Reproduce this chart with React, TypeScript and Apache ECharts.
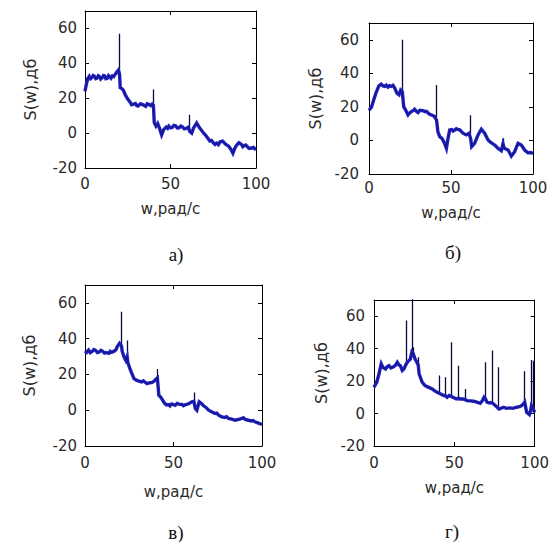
import React, { useEffect, useRef } from "react";
import * as echarts from "echarts";

// ---- Data ----
const xTicks = [0, 50, 100];
const yTicks = [-20, 0, 20, 40, 60];
const panelCaptions = ["а)", "б)", "в)", "г)"];
const xName = "w,рад/с";
const yName = "S(w),дб";

const spectrumA: [number, number][] = [
  [0, 24], [0.8, 28], [1.5, 31], [2.5, 32.5], [3.2, 31.2], [4, 31.8], [4.8, 33], [5.5, 32.6], [6.3, 31.2], [7, 31.5],
  [7.8, 32.9], [8.5, 32.4], [9.2, 31], [10, 31.6], [10.8, 33], [11.5, 32.8], [12.2, 31.2], [13, 31.4], [13.8, 32.9],
  [14.5, 32.2], [15.2, 31.5], [16, 32.8], [16.8, 32.4], [17.5, 33.5], [18.5, 34.8], [19.5, 36], [20.2, 34],
  [20.6, 26], [21.5, 25.5], [22.5, 24.5], [23.5, 22], [25, 19.5], [26.5, 17.5], [27.3, 16.3], [28, 16.5], [29.5, 17],
  [30.3, 15.8], [31, 15.5], [32.5, 16.8], [34, 16.2], [35.5, 15.3], [36.3, 16.8], [37, 16.6], [38.5, 15.8], [39.3, 16.6], [40, 16], [40.5, 6],
  [41.5, 4], [42.5, 5.5], [43.5, 3], [44.8, -1], [46, 2], [47.5, 3.5], [48.3, 2.8], [49, 4], [50, 3], [51, 3.2], [52, 4.4], [53, 4.2],
  [54, 2.9], [55, 3], [56, 4], [57, 3.5], [58, 2.5], [59, 2.6], [60.5, 3.5], [61.2, 1], [62.4, 0], [63.5, 3], [65.3, 5.8], [67, 3],
  [69, 0.5], [71, -1.8], [73, -4.5], [74, -4.2], [75, -5.5], [76, -6.5], [77, -5.8], [78, -6.6], [79, -5], [80.5, -4.6], [82, -6.2],
  [84, -7.5], [85.5, -9.5], [86.5, -11.5], [87.7, -8.5], [89, -6.5], [90, -5.5], [91.5, -6.5], [92.3, -7.8],
  [93, -7.2], [94, -6.8], [95, -7.8], [96, -8.8], [97, -8.6], [98.5, -8.2], [99.3, -9], [100, -8.5],
];
const spikeXA = [20, 40.2, 60.8];
const spikeBaseA = [35, 17, 3];
const spikePeakA = [57, 25, 10.5];

const spectrumB: [number, number][] = [
  [0, 18], [1.5, 19.8], [2.8, 24], [4.5, 29], [6.1, 32.7], [7.5, 33.5], [8.5, 32.5], [9.6, 32.2],
  [10.5, 33], [11.6, 31.8], [12.5, 32.6], [13.6, 32.2], [14.6, 32.8], [15.7, 31.2], [17, 28.2],
  [18.3, 27.2], [19.3, 30], [20.3, 29], [21.2, 20], [22.4, 18], [23.8, 15.2], [24.8, 16.4], [25.8, 17.2],
  [27, 17.8], [27.8, 18.6], [29, 17.2], [29.9, 16.6], [31, 18], [32.9, 17.8], [34, 17.2], [35, 17.4],
  [36, 16.4], [37, 15.6], [38.5, 15], [40, 14.2], [41.2, 12], [42, 5.3], [43.1, 2.3], [44.5, 1.3],
  [46.1, -1.8], [47.2, -4.7], [48.2, 1.3], [49.2, 6.3], [50.5, 6.5], [51.3, 5.6], [52.2, 6.2], [53.2, 7], [54, 6.6], [55.3, 6.3],
  [57.3, 4.3], [59.3, 3.3], [61, 4.3], [62, 1], [62.6, -3.7], [64.4, -1.7], [66.5, 3.3], [68.5, 6.7],
  [70.5, 4.3], [72.6, 0.3], [74, -1], [75.6, -2.1], [77, -3], [78.7, -4.7], [80.7, -6.1], [81.7, -2],
  [82.5, -4.7], [84.8, -5.7], [86.8, -9.3], [88.8, -6.7], [90.9, -1.7], [92.9, -2.7], [94.9, -5.7],
  [96.9, -7.3], [98.5, -7.2], [100, -7.7],
];
const spikeXB = [20.4, 41, 61.8, 81.7];
const spikeBaseB = [29, 14, 4, -5];
const spikePeakB = [60, 33, 15, 1.3];

const spectrumC: [number, number][] = [
  [0, 33.2], [1, 32.4], [2, 33.6], [3, 32.2], [4, 32.8], [5, 33.9], [6, 33.4], [7, 32.3], [8, 32.6], [9, 33.5], [10, 32.9],
  [11, 31.9], [12, 32.2], [13.5, 31.8], [14.2, 32.9], [15, 32.4],
  [16.5, 33], [17.5, 33.8], [18.2, 35.5], [19.5, 37.4], [20.6, 36], [21, 33], [22, 29.9], [23, 28],
  [23.8, 30], [24.3, 26.2], [25.7, 22.4], [27.6, 17.8], [29, 16.8], [30.4, 16.3], [32, 15.8], [33, 16.4], [34.1, 15.5],
  [35, 14.9], [36, 15.2], [37.9, 15.5], [39, 16.2], [40.2, 17.4], [40.9, 18], [41.7, 8.4], [42.6, 7.5], [43.5, 6.2],
  [45, 3.8], [46, 3], [47.3, 3.2], [48, 2.4], [49, 3.5], [50, 3.1], [51, 2.8], [52, 3.8], [53, 3.4], [54.8, 3.2], [55.6, 2.5], [56.5, 3], [58.5, 3.6],
  [60.4, 4.7], [61.5, 5], [62.3, 1], [63.2, 0], [64.5, 4.7], [65.5, 4], [67, 2.5], [68.5, 1.4], [69.8, 0],
  [71.5, -0.8], [73.5, -1.8], [74.5, -1.6], [75.5, -2.8], [77.3, -3.7], [79, -4], [80, -3.6], [81, -4.6], [83, -5], [84.8, -5.6],
  [86.5, -5.2], [88.6, -4.6], [89.5, -4.2], [90.5, -5.2], [92.3, -5.6], [94, -6], [95, -5.8], [96, -6.5], [98, -7.2], [100, -8],
];
const spikeXC = [20.6, 23.8, 40.9, 61.5];
const spikeBaseC = [37, 30, 18, 5];
const spikePeakC = [55, 39, 23, 9.9];

const spectrumD: [number, number][] = [
  [0, 16.2], [1.7, 19.3], [3.1, 24.4], [4.5, 30.6], [5.5, 28.5], [7.2, 27.5], [8.3, 29], [9.3, 29.5],
  [10.5, 28.1], [12.4, 28.9], [13.5, 30], [14.5, 31.6], [15.5, 30], [16.4, 29.5], [17.6, 26.5],
  [18.6, 27.5], [19.8, 30], [20.7, 31.6], [21.7, 32.6], [22.6, 33.5], [23.6, 38], [24.4, 37],
  [25.5, 33.7], [26.5, 32], [27.5, 30], [28.1, 24.4], [30, 19.3], [31.5, 17.5], [33, 16.6], [34.5, 16],
  [36.2, 15.2], [37.8, 14], [39.3, 13.1], [40.5, 12.5], [41.5, 12.1], [43.4, 11.1], [44.4, 11],
  [45.5, 10], [46.8, 11.1], [48.1, 10.5], [49.2, 10], [51.2, 9], [52.7, 9.5], [53.7, 9], [55.5, 9],
  [56.6, 8.6], [57.9, 8], [60, 7.8], [62, 7.6], [64, 7], [66.1, 6.3], [67.5, 8], [68.5, 10], [69.4, 9],
  [70.3, 7], [72, 6.5], [73.3, 6.8], [74.4, 5.9], [76, 4.5], [77.1, 3.5], [77.9, 2.8], [80.6, 3.9],
  [82.5, 3.2], [84.7, 3.5], [86.5, 3.2], [88.8, 3.9], [90.5, 4.2], [91.9, 4.9], [93, 6], [93.8, 7],
  [95, 0.8], [96.7, -0.6], [97.5, 2], [98, 5], [98.8, 4], [99.4, 2], [100, 0.8],
];
const spikeXD = [19.8, 23.6, 24.4, 27.5, 40.5, 44.4, 48.1, 52.7, 56.6, 69.4, 73.3, 77.1, 93.8, 98, 98.8];
const spikeBaseD = [30, 36, 37, 30, 12.5, 11, 10.5, 9.5, 8.6, 9, 6.8, 3.5, 7, 5, 4];
const spikePeakD = [57.3, 72, 40.8, 34.7, 23.4, 22.4, 43.9, 29.5, 15.2, 31.6, 38.8, 28.5, 26.1, 33, 32.6];

const spectra = [spectrumA, spectrumB, spectrumC, spectrumD];
const spikeXs = [spikeXA, spikeXB, spikeXC, spikeXD];
const spikeBases = [spikeBaseA, spikeBaseB, spikeBaseC, spikeBaseD];
const spikePeaks = [spikePeakA, spikePeakB, spikePeakC, spikePeakD];

// ---- Layout ----
const grids = [
  { left: 85, top: 11, width: 171, height: 157 },
  { left: 369, top: 23, width: 164, height: 151 },
  { left: 85, top: 285, width: 177, height: 161 },
  { left: 374, top: 300, width: 162, height: 146 },
];
const xLabelMargin = [8, 6, 9, 9];
const yLabelMargin = [8, 10, 8, 9];
const xNameGap = [33, 31, 38, 34];
const yNameGap = [47, 46, 48, 45];
const captionPos = [
  [176, 254],
  [453, 252],
  [176, 532],
  [452, 531],
];

const AXIS_FONT = "'DejaVu Sans', 'Liberation Sans', sans-serif";
const TEXT_COLOR = "#2a2a2a";

export default function App() {
  const ref = useRef<HTMLDivElement>(null);
  useEffect(() => {
    if (!ref.current) return;
    const chart = echarts.init(ref.current, undefined, { renderer: "svg" });
    const xAxes: any[] = [];
    const yAxes: any[] = [];
    const series: any[] = [];
    grids.forEach((g, i) => {
      const tick = { show: true, inside: true, length: 4, lineStyle: { color: "#000", width: 1 } };
      const line = { show: true, onZero: false, lineStyle: { color: "#000", width: 1 } };
      xAxes.push({
        type: "value", gridIndex: i, position: "bottom", min: xTicks[0], max: xTicks[xTicks.length - 1],
        interval: xTicks[1] - xTicks[0], axisLine: line, axisTick: tick, splitLine: { show: false },
        axisLabel: { fontSize: 15, color: TEXT_COLOR, fontFamily: AXIS_FONT, margin: xLabelMargin[i] },
        name: xName, nameLocation: "middle", nameGap: xNameGap[i],
        nameTextStyle: { fontSize: 15, color: TEXT_COLOR, fontFamily: AXIS_FONT },
      });
      xAxes.push({
        type: "value", gridIndex: i, position: "top", min: xTicks[0], max: xTicks[xTicks.length - 1],
        interval: xTicks[1] - xTicks[0], axisLine: line, axisTick: tick, splitLine: { show: false },
        axisLabel: { show: false },
      });
      yAxes.push({
        type: "value", gridIndex: i, position: "left", min: yTicks[0], max: 70,
        interval: yTicks[1] - yTicks[0], axisLine: line, axisTick: tick, splitLine: { show: false },
        axisLabel: { fontSize: 15, color: TEXT_COLOR, fontFamily: AXIS_FONT, margin: yLabelMargin[i], showMaxLabel: false },
        name: yName, nameLocation: "middle", nameGap: yNameGap[i], nameRotate: 90,
        nameTextStyle: { fontSize: 16, color: TEXT_COLOR, fontFamily: AXIS_FONT },
      });
      yAxes.push({
        type: "value", gridIndex: i, position: "right", min: yTicks[0], max: 70,
        interval: yTicks[1] - yTicks[0], axisLine: line, axisTick: tick, splitLine: { show: false },
        axisLabel: { show: false },
      });
      series.push({
        type: "line", xAxisIndex: 2 * i, yAxisIndex: 2 * i, data: spectra[i], showSymbol: false,
        symbol: "none", clip: true, lineStyle: { color: "#2121c4", width: 3.4, join: "miter" },
      });
      series.push({
        type: "line", xAxisIndex: 2 * i, yAxisIndex: 2 * i, data: spectra[i], showSymbol: false,
        symbol: "none", clip: true, lineStyle: { color: "#10106a", width: 0.8 },
      });
      series.push({
        type: "lines", coordinateSystem: "cartesian2d", xAxisIndex: 2 * i, yAxisIndex: 2 * i, clip: true,
        data: spikeXs[i].map((x, k) => ({ coords: [[x, spikeBases[i][k]], [x, spikePeaks[i][k]]] })),
        lineStyle: { color: "#0a0a40", width: 1.3, opacity: 1 },
      });
    });
    chart.setOption({
      animation: false,
      backgroundColor: "#ffffff",
      grid: grids.map((g) => ({ ...g, containLabel: false })),
      xAxis: xAxes,
      yAxis: yAxes,
      series,
      graphic: panelCaptions.map((t, i) => ({
        type: "text", x: captionPos[i][0], y: captionPos[i][1],
        style: { text: t, fontSize: 19, fontFamily: "'Liberation Serif', 'DejaVu Serif', serif", fill: "#111", align: "center", verticalAlign: "middle" },
      })),
    });
    return () => chart.dispose();
  }, []);
  return <div ref={ref} style={{ position: "fixed", left: 0, top: 0, width: 552, height: 542 }} />;
}
